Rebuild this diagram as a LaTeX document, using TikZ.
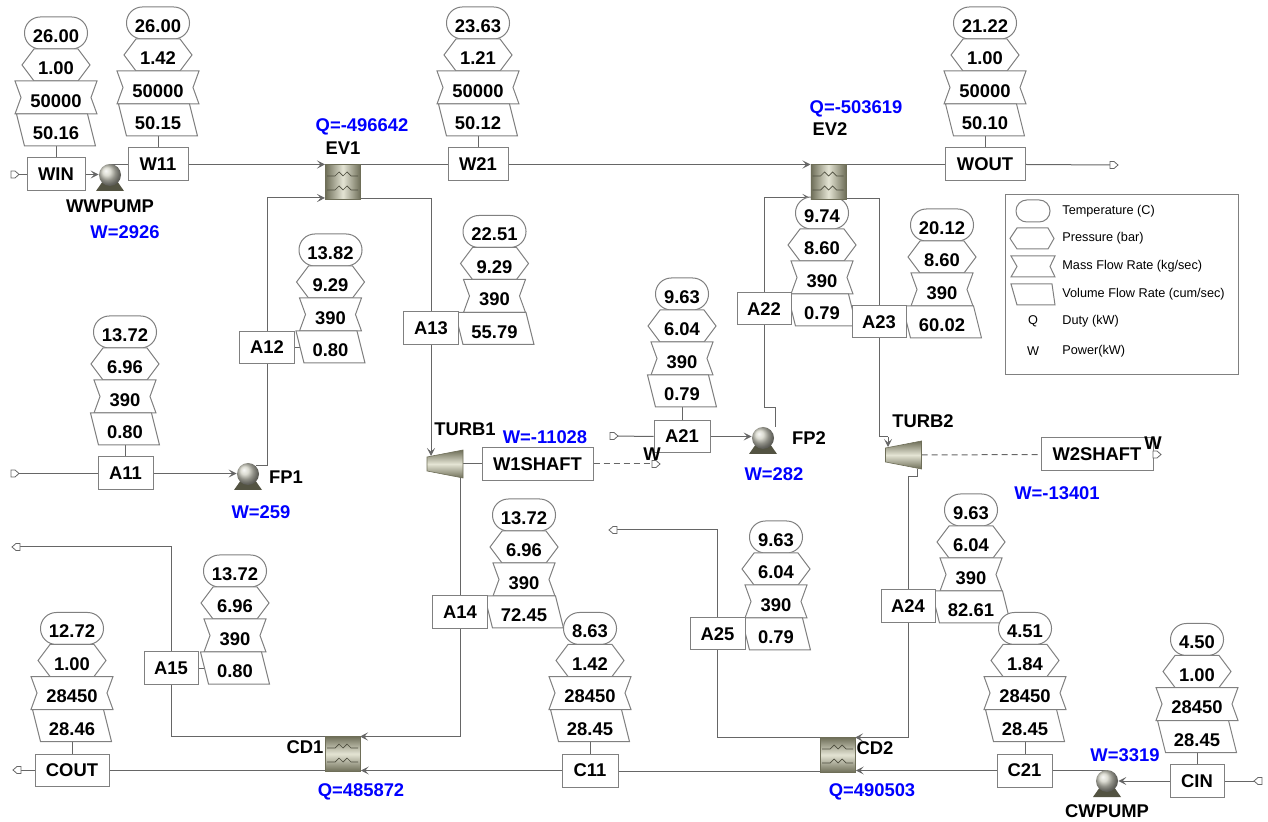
\documentclass[tikz,border=0pt]{standalone}
\usepackage{fontspec}
\setmainfont{Liberation Sans}
\usetikzlibrary{arrows.meta,backgrounds,calc}
\definecolor{lineC}{HTML}{666666}
\definecolor{boxC}{HTML}{808080}
\definecolor{blueC}{HTML}{0000FF}
\definecolor{hxD}{HTML}{6E6E58}
\definecolor{hxL}{HTML}{E4E4D4}
\newcommand{\labfont}{\fontsize{9.2}{10}\selectfont\bfseries}
\tikzset{
  pipe/.style={draw=lineC,line width=0.5pt},
  flow/.style={pipe,-{Stealth[length=4pt,width=4pt,inset=1.8pt]}},
  shaftline/.style={draw=lineC,line width=0.5pt,dash pattern=on 3pt off 2pt},
  stem/.style={draw=lineC,line width=0.5pt},
  blk/.style={draw=boxC,fill=white,line width=0.5pt,inner sep=0pt,font=\labfont,text=black},
  tag/.style={inner sep=0pt,font=\labfont,text=black},
  bluetag/.style={inner sep=0pt,font=\labfont,text=blueC},
  stkshape/.style={draw=boxC,fill=white,line width=0.5pt},
  heatersize/.style={draw=hxD,line width=0.4pt,inner sep=0pt,minimum width=17.5pt,minimum height=17.5pt},
  heaterH/.style={heatersize,left color=hxD,right color=hxD,middle color=hxL},
  heaterV/.style={heatersize,top color=hxD,bottom color=hxD,middle color=hxL},
  pumpball/.style={circle,inner sep=0pt,minimum size=11pt,ball color=hxL!80!gray},
  leglab/.style={inner sep=0pt,anchor=west,font=\fontsize{6.35}{7}\selectfont,text=black},
}
% name, cx, top, T, P, M, V
\newcommand{\stack}[7]{%
  \begin{scope}[shift={(#2,#3)}]
    \pgfmathsetmacro{\hw}{ifthenelse(#4>=10,22.5,17.5)+9}%
    \draw[stkshape,rounded corners=7.9pt] (-\hw,0) rectangle (\hw,32);
    \node[tag] (#1T) at (0,19) {#4};
    \draw[stkshape] (-34,48) -- (-22,32) -- (22,32) -- (34,48) -- (22,64) -- (-22,64) -- cycle;
    \node[tag] (#1P) at (0,51.5) {#5};
    \ifnum#6>999 \def\hw{41}\def\hn{35}\else\def\hw{31}\def\hn{25}\fi
    \draw[stkshape] (-\hw,64) -- (\hw,64) -- (\hn,80.5) -- (\hw,97) -- (-\hw,97) -- (-\hn,80.5) -- cycle;
    \node[tag] (#1M) at (0,84) {#6};
    \pgfmathsetmacro{\hw}{ifthenelse(#7>=10,22.5,17.5)+17}%
    \pgfmathsetmacro{\hn}{\hw-8}%
    \draw[stkshape] (-\hw,97) -- (\hn,97) -- (\hw,129) -- (-\hn,129) -- cycle;
    \node[tag] (#1V) at (0,116.5) {#7};
    \coordinate (#1foot) at (0,129);
  \end{scope}}
% name, cx, cy, w, h, text
\newcommand{\block}[6]{%
  \pgfmathsetmacro{\bw}{#4*0.5}\pgfmathsetmacro{\bh}{#5*0.5}%
  \node[blk,minimum width=\bw pt,minimum height=\bh pt] (#1) at (#2,#3) {#6};}
% name, x left, y top, style
\newcommand{\hx}[4]{%
  \node[#4,anchor=north west] (#1) at (#2,#3) {};
  \begin{scope}[shift={(#2,#3)}]
    \draw[hxD!70!black,line width=0.35pt] (2,12) -- (10,12) -- (14,8) -- (18,12) -- (22,8) -- (26,12) -- (33,12);
    \draw[hxD!70!black,line width=0.35pt] (2,26) -- (10,26) -- (14,22) -- (18,26) -- (22,22) -- (26,26) -- (33,26);
    \coordinate (#1a) at (0,0.5);
    \coordinate (#1b) at (0,34);
    \coordinate (#1c) at (35,0.5);
    \coordinate (#1d) at (35,34.5);
  \end{scope}}
% name, cx, cy
\newcommand{\pump}[3]{%
  \begin{scope}[shift={(#2,#3)}]
    \fill[hxD!75!black] (-14,16) -- (-7,6) -- (7,6) -- (14,16) -- cycle;
  \end{scope}
  \node[pumpball] (#1) at (#2,#3) {};}
% name, x left, cy
\newcommand{\turb}[3]{%
  \begin{scope}[shift={(#2,#3)}]
    \shade[top color=hxD,bottom color=hxD,middle color=hxL,draw=hxD,line width=0.3pt] (0,-7) -- (36,-14) -- (36,14) -- (0,7) -- cycle;
    \coordinate (#1s) at (36,0);
  \end{scope}}
% name, tip direction
\newcommand{\termark}[2]{%
  \draw[draw=lineC,fill=white,line width=0.4pt,shift={(#1)},rotate=#2] (-4,-3.5) -- (0,-3.5) -- (4,0) -- (0,3.5) -- (-4,3.5) -- cycle;}
\begin{document}
\begin{tikzpicture}[x=0.5pt,y=-0.5pt]
\useasboundingbox (0,0) rectangle (1268,822);
% stacks
\stack{sWIN}{56}{17}{26.00}{1.00}{50000}{50.16}
\stack{sW11}{158}{7}{26.00}{1.42}{50000}{50.15}
\stack{sW21}{478}{7}{23.63}{1.21}{50000}{50.12}
\stack{sWOUT}{985}{7}{21.22}{1.00}{50000}{50.10}
\stack{sA11}{125}{316}{13.72}{6.96}{390}{0.80}
\stack{sA12}{330.5}{234}{13.82}{9.29}{390}{0.80}
\stack{sA13}{494.5}{215.5}{22.51}{9.29}{390}{55.79}
\stack{sA21}{682}{278}{9.63}{6.04}{390}{0.79}
\stack{sA22}{822}{197}{9.74}{8.60}{390}{0.79}
\stack{sA23}{942}{209}{20.12}{8.60}{390}{60.02}
\stack{sA14}{524}{499}{13.72}{6.96}{390}{72.45}
\stack{sA15}{235}{555}{13.72}{6.96}{390}{0.80}
\stack{sC11}{590}{612.5}{8.63}{1.42}{28450}{28.45}
\stack{sCOUT}{72}{612.5}{12.72}{1.00}{28450}{28.46}
\stack{sA25}{776}{521}{9.63}{6.04}{390}{0.79}
\stack{sA24}{971}{494}{9.63}{6.04}{390}{82.61}
\stack{sC21}{1025}{612.5}{4.51}{1.84}{28450}{28.45}
\stack{sCIN}{1197}{623.5}{4.50}{1.00}{28450}{28.45}
% blocks
\block{WIN}{56}{174.5}{58}{33}{WIN}
\block{W11}{158}{164.5}{60}{33}{W11}
\block{W21}{478}{164.5}{60}{33}{W21}
\block{WOUT}{985}{164.5}{80}{33}{WOUT}
\block{A11}{125.5}{473.5}{55}{33}{A11}
\block{A12}{267}{347.5}{55}{32}{A12}
\block{A13}{431}{328.5}{55}{33}{A13}
\block{A14}{460}{612}{55}{33}{A14}
\block{A15}{171}{668}{54}{32}{A15}
\block{A21}{682}{436.5}{56}{32}{A21}
\block{A22}{764}{309}{54}{32}{A22}
\block{A23}{879}{322}{54}{32}{A23}
\block{A24}{908}{606.5}{54}{33}{A24}
\block{A25}{717.5}{634}{55}{32}{A25}
\block{C11}{590}{770.5}{56}{33}{C11}
\block{COUT}{72}{770}{74}{32}{COUT}
\block{C21}{1024.5}{770.5}{55}{33}{C21}
\block{CIN}{1197}{781}{54}{33}{CIN}
\block{W1SHAFT}{537.5}{464}{111}{33}{W1SHAFT}
\block{W2SHAFT}{1097}{454.5}{112}{33}{W2SHAFT}
% units
\hx{EV1}{325}{164}{heaterH}
\hx{EV2}{810.5}{164}{heaterH}
\hx{CD1}{325}{736}{heaterV}
\hx{CD2}{820}{737}{heaterV}
\pump{WWPUMP}{110}{175}
\pump{FP1}{248}{474}
\pump{FP2}{763}{438}
\pump{CWPUMP}{1107}{781}
\turb{TURB1}{427}{464}
\turb{TURB2}{885.5}{455}
% free ends
\coordinate (eWIN) at (15,174.5);
\coordinate (eA11) at (15,473.5);
\coordinate (eA15) at (16,547);
\coordinate (eCOUT) at (17,770);
\coordinate (eA21) at (614,436);
\coordinate (eA25) at (613,530);
\coordinate (eW1) at (656,464);
\coordinate (eW2) at (1157,454.5);
\coordinate (eWOUT) at (1114,165);
\coordinate (eCIN) at (1258,781);
\coordinate (kA15) at (171,547);
\coordinate (kA25) at (717.5,530);
\coordinate (kFP2a) at (775,408);
\coordinate (kFP2b) at (764,408);
\coordinate (pFP2) at (775,427);
\coordinate (iT1) at (431,456);
\coordinate (oT1) at (460,477);
\coordinate (kT2k) at (888,437);
\coordinate (iT2) at (888,447);
\coordinate (oT2) at (917,469);
\coordinate (kT2b) at (917,477);
\coordinate (kT2c) at (908,477);
\begin{scope}[on background layer]
% stems
\foreach \n in {WIN,W11,W21,WOUT,A11,A21,COUT,C11,C21,CIN}{\draw[stem] (s\n foot) -- (s\n foot |- \n.north);}
\draw[stem] (A15.east) -- (A15.east -| sA15V);
\draw[stem] (A12.east) -- (A12.east -| sA12V);
% water train
\draw[pipe] (eWIN) -- (WIN.west);
\draw[flow] (WIN.east) -- (WIN.east -| WWPUMP.west);
\draw[pipe] (W11.west -| WWPUMP.north) -- (W11.west);
\draw[flow] (W11.east) -- (W11.east -| EV1.west);
\draw[pipe] (EV1c) -- (EV1c -| W21.west);
\draw[flow] (W21.east) -- (W21.east -| EV2.west);
\draw[pipe] (EV2c) -- (EV2c -| WOUT.west);
\draw[pipe] (WOUT.east) -- (eWOUT);
% loop 1
\draw[pipe] (eA11) -- (A11.west);
\draw[flow] (A11.east) -- (A11.east -| FP1.west);
\draw[pipe] (FP1.45) -| (A12.south);
\draw[flow] (A12.north) |- (EV1b);
\draw[pipe] (EV1d) -| (A13.north);
\draw[flow] (A13.south) -- (iT1);
\draw[pipe] (oT1) -- (oT1 |- A14.north);
\draw[flow] (A14.south) |- (CD1c);
\draw[pipe] (CD1a) -| (A15.south);
\draw[pipe] (A15.north) -- (kA15) -- (eA15);
\draw[pipe] (TURB1s) -- (TURB1s -| W1SHAFT.west);
\draw[shaftline] (W1SHAFT.east) -- (eW1);
% loop 2
\draw[pipe] (eA21) -- (A21.west);
\draw[flow] (A21.east) -- (A21.east -| FP2.west);
\draw[pipe] (pFP2) -- (kFP2a) -- (kFP2b) -- (A22.south);
\draw[flow] (A22.north) |- (EV2b);
\draw[pipe] (EV2d) -| (A23.north);
\draw[pipe] (A23.south) |- (kT2k);
\draw[flow] (kT2k) -- (iT2);
\draw[pipe] (oT2) -- (kT2b) -- (kT2c) -- (A24.north);
\draw[flow] (A24.south) |- (CD2c);
\draw[pipe] (CD2a) -| (A25.south);
\draw[pipe] (A25.north) -- (kA25) -- (eA25);
\draw[shaftline] (TURB2s) -- (W2SHAFT.west);
\draw[pipe] (W2SHAFT.east) -- (eW2);
% cooling water
\draw[pipe] (eCIN) -- (CIN.east);
\draw[flow] (CIN.west) -- (CIN.west -| CWPUMP.east);
\draw[pipe] (C21.east) -- (C21.east -| CWPUMP.north);
\draw[flow] (C21.west) -- (C21.west -| CD2.east);
\draw[pipe] (CD2b) -- (CD2b -| C11.east);
\draw[flow] (C11.west) -- (C11.west -| CD1.east);
\draw[pipe] (CD1b) -- (CD1b -| COUT.east);
\draw[pipe] (COUT.west) -- (eCOUT);
\end{scope}
% end marks
\termark{eWIN}{0}
\termark{eA11}{0}
\termark{eA15}{180}
\termark{eCOUT}{180}
\termark{eA21}{0}
\termark{eA25}{180}
\termark{eW1}{0}
\termark{eW2}{0}
\termark{eWOUT}{0}
\termark{eCIN}{180}
% labels
\node[tag] (lEV1) at (343,148) {EV1};
\node[tag] (lEV2) at (830,129) {EV2};
\node[tag] (lCD1) at (305,747) {CD1};
\node[tag] (lCD2) at (875,748) {CD2};
\node[tag] (lWWP) at (110,206) {WWPUMP};
\node[tag] (lFP1) at (286,477) {FP1};
\node[tag] (lFP2) at (809,438) {FP2};
\node[tag] (lCWP) at (1107,811) {CWPUMP};
\node[tag] (lT1) at (465,429) {TURB1};
\node[tag] (lT2) at (923,421) {TURB2};
\node[tag] (lW1) at (652,454) {W};
\node[tag] (lW2) at (1153,443) {W};
\node[bluetag] (qEV1) at (362,127) {Q=-496642};
\node[bluetag] (qEV2) at (856,109) {Q=-503619};
\node[bluetag] (wWW) at (125,232) {W=2926};
\node[bluetag] (wFP1) at (261,512) {W=259};
\node[bluetag] (wT1) at (545,437) {W=-11028};
\node[bluetag] (wFP2) at (774,474) {W=282};
\node[bluetag] (wT2) at (1057,493) {W=-13401};
\node[bluetag] (qCD1) at (361,792) {Q=485872};
\node[bluetag] (qCD2) at (872,792) {Q=490503};
\node[bluetag] (wCW) at (1125,755) {W=3319};
% legend
\node[draw=boxC,fill=white,line width=0.5pt,inner sep=0pt,minimum width=116.5pt,minimum height=90pt,anchor=north west] (legend) at (1005,194) {};
\draw[stkshape,rounded corners=5.4pt] (1016,200) rectangle (1050,222);
\draw[stkshape] (1010,238.5) -- (1017,228) -- (1048,228) -- (1054,238.5) -- (1048,249) -- (1017,249) -- cycle;
\draw[stkshape] (1011,256) -- (1055,256) -- (1050,266.5) -- (1055,277) -- (1011,277) -- (1017,266.5) -- cycle;
\draw[stkshape] (1011,284) -- (1052,284) -- (1055,305) -- (1017,305) -- cycle;
\node[leglab] (leg1) at (1062,211) {Temperature (C)};
\node[leglab] (leg2) at (1062,238.5) {Pressure (bar)};
\node[leglab] (leg3) at (1062,266) {Mass Flow Rate (kg/sec)};
\node[leglab] (leg4) at (1062,294) {Volume Flow Rate (cum/sec)};
\node[leglab] (leg5) at (1062,321.5) {Duty (kW)};
\node[leglab] (leg6) at (1062,351) {Power(kW)};
\node[leglab,anchor=center] (legQ) at (1033,321.5) {Q};
\node[leglab,anchor=center] (legW) at (1033,351) {W};
\end{tikzpicture}
\end{document}
